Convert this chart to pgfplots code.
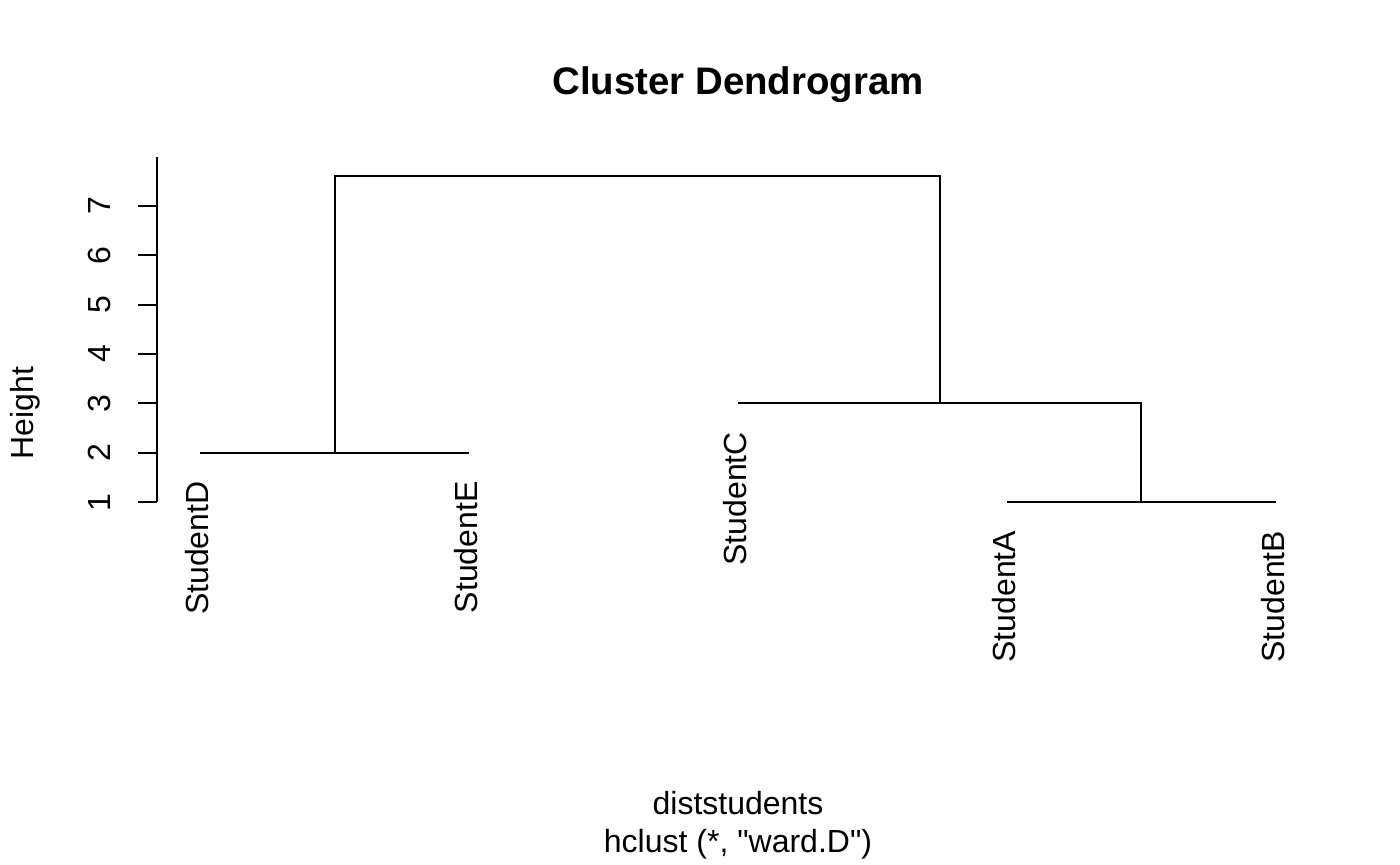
\documentclass[border=0pt]{standalone}
\usepackage{pgfplots}
\pgfplotsset{compat=1.18}
\usepackage{fontspec}
\setmainfont{Liberation Sans}[Ligatures=TeXOff]
\begin{document}
\begin{tikzpicture}
\begin{axis}[
  scale only axis,
  width=581pt, height=172.65pt,
  xmin=0.84, xmax=5.16,
  ymin=1, ymax=7.985,
  axis y line=left, axis x line=none,
  y axis line style={-, line width=1pt},
  ytick={1,2,3,4,5,6,7},
  tick align=outside,
  major tick length=9.5pt,
  tick style={line width=1pt, black},
  /pgf/number format/assume math mode=true,
  yticklabel style={xshift=-13.5pt, rotate=90, anchor=south, inner sep=0pt, font=\fontsize{16}{19.2}\selectfont},
  clip=false,
]
\addplot[black, line width=1pt] coordinates {(1,2) (2,2)};
\addplot[black, line width=1pt] coordinates {(1.5,2) (1.5,7.61) (3.75,7.61) (3.75,3)};
\addplot[black, line width=1pt] coordinates {(3,3) (4.5,3) (4.5,1)};
\addplot[black, line width=1pt] coordinates {(4,1) (5,1)};
\begin{scope}[every node/.style={rotate=90, anchor=east, inner sep=0pt, font=\fontsize{16}{19.2}\selectfont}]
\node at (axis cs:0.988,1.43) {StudentD};
\node at (axis cs:1.988,1.43) {StudentE};
\node at (axis cs:2.988,2.43) {StudentC};
\node at (axis cs:3.988,0.43) {StudentA};
\node at (axis cs:4.988,0.43) {StudentB};
\end{scope}
\node[rotate=90, inner sep=0pt, font=\fontsize{16}{19.2}\selectfont] at (axis cs:0.349,2.807) {Height};
\node[anchor=base, inner sep=0pt, font=\fontsize{19.2}{23}\selectfont\bfseries] at (axis cs:3,9.24) {Cluster Dendrogram};
\node[anchor=base, inner sep=0pt, font=\fontsize{16}{19.2}\selectfont] at (axis cs:3,-5.306) {diststudents};
\node[anchor=base, inner sep=0pt, font=\fontsize{16}{19.2}\selectfont] at (axis cs:3,-6.075) {hclust (*, "ward.D")};
\end{axis}
\pgfresetboundingbox
\path[use as bounding box] (-78.5pt,-181.35pt) rectangle (621.5pt,251.15pt);
\end{tikzpicture}
\end{document}
